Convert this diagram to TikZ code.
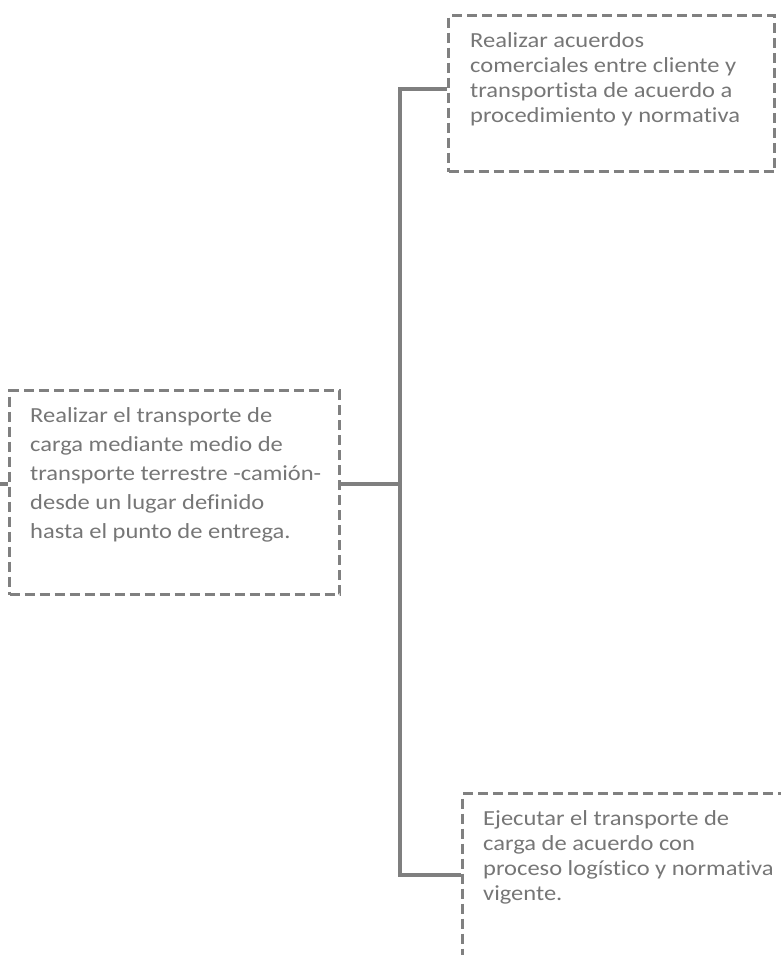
\documentclass[tikz,border=0pt]{standalone}
\usepackage{fontspec}
\setmainfont{Carlito}[FakeStretch=1.14,Ligatures=NoCommon]
\definecolor{txtgray}{HTML}{767676}
\definecolor{linegray}{HTML}{7F7F7F}
\definecolor{boxgray}{HTML}{808080}
\begin{document}
\begin{tikzpicture}[x=1pt,y=-1pt,
  dbox/.style={draw=boxgray,line width=3.4pt,dash pattern=on 10pt off 5pt,inner sep=0pt,anchor=north west},
  txt/.style={anchor=base west,inner sep=0pt,align=left,text=txtgray},
  tight/.style={font=\fontsize{21.5pt}{24.8pt}\selectfont},
  loose/.style={font=\fontsize{21.5pt}{29pt}\selectfont},
  conn/.style={draw=linegray,line width=4pt}]
\useasboundingbox (0,0) rectangle (781,955);
\clip (0,0) rectangle (781,955);
% boxes
\node[dbox,minimum width=326pt,minimum height=156pt] (T) at (447,14) {};
\node[dbox,minimum width=330pt,minimum height=204pt] (L) at (8,389) {};
\node[dbox,minimum width=340pt,minimum height=200pt] (B) at (461,792) {};
% texts (anchored at the baseline of the last line)
\node[txt,tight] (Tt) at (470,122) {Realizar acuerdos\\comerciales entre cliente y\\transportista de acuerdo a\\procedimiento y normativa};
\node[txt,loose] (Lt) at (30,538) {Realizar el transporte de\\carga mediante medio de\\transporte terrestre -camión-\\desde un lugar definido\\hasta el punto de entrega.};
\node[txt,tight] (Bt) at (483,900) {Ejecutar el transporte de\\carga de acuerdo con\\proceso logístico y normativa\\vigente.};
% connectors
\coordinate (J) at (400,484);
\coordinate (S) at (0,484);
\draw[conn] (L.east |- J) -- (J);
\draw[conn] (S) -- (L.west |- J);
\draw[conn] (T.west |- 0,89) -| (J);
\draw[conn] (B.west |- 0,875) -| (J);
\end{tikzpicture}
\end{document}
